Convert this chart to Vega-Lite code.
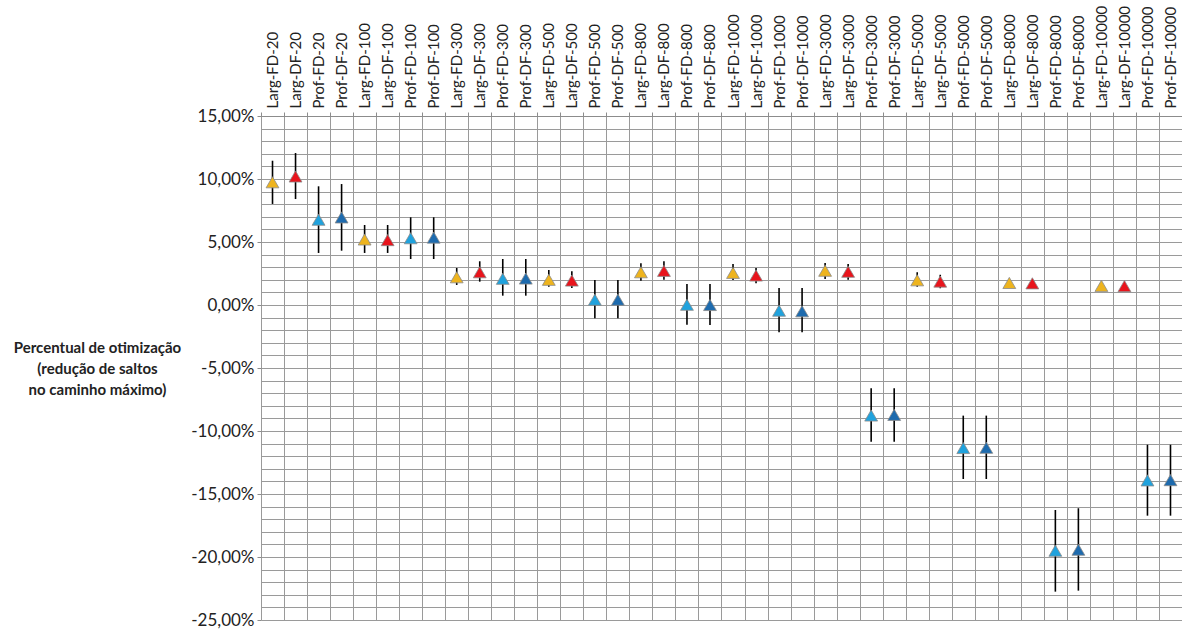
{
  "$schema": "https://vega.github.io/schema/vega-lite/v6.json",
  "autosize": {"type": "none"},
  "padding": {"left": 261, "top": 116, "right": 0, "bottom": 10},
  "width": 921,
  "height": 504,
  "background": "white",
  "config": {
    "view": {"stroke": null},
    "font": "Lato"
  },
  "data": {
    "values": [
      {"cat": "Larg-FD-20", "serie": "Larg-FD", "v": 9.74, "lo": 8.02, "hi": 11.45},
      {"cat": "Larg-DF-20", "serie": "Larg-DF", "v": 10.2, "lo": 8.41, "hi": 12.06},
      {"cat": "Prof-FD-20", "serie": "Prof-FD", "v": 6.77, "lo": 4.13, "hi": 9.42},
      {"cat": "Prof-DF-20", "serie": "Prof-DF", "v": 6.95, "lo": 4.31, "hi": 9.6},
      {"cat": "Larg-FD-100", "serie": "Larg-FD", "v": 5.2, "lo": 4.13, "hi": 6.35},
      {"cat": "Larg-DF-100", "serie": "Larg-DF", "v": 5.15, "lo": 4.13, "hi": 6.35},
      {"cat": "Prof-FD-100", "serie": "Prof-FD", "v": 5.3, "lo": 3.65, "hi": 6.96},
      {"cat": "Prof-DF-100", "serie": "Prof-DF", "v": 5.35, "lo": 3.65, "hi": 6.96},
      {"cat": "Larg-FD-300", "serie": "Larg-FD", "v": 2.2, "lo": 1.59, "hi": 2.94},
      {"cat": "Larg-DF-300", "serie": "Larg-DF", "v": 2.6, "lo": 1.85, "hi": 3.47},
      {"cat": "Prof-FD-300", "serie": "Prof-FD", "v": 2.08, "lo": 0.74, "hi": 3.65},
      {"cat": "Prof-DF-300", "serie": "Prof-DF", "v": 2.1, "lo": 0.74, "hi": 3.65},
      {"cat": "Larg-FD-500", "serie": "Larg-FD", "v": 2.0, "lo": 1.45, "hi": 2.78},
      {"cat": "Larg-DF-500", "serie": "Larg-DF", "v": 1.94, "lo": 1.35, "hi": 2.67},
      {"cat": "Prof-FD-500", "serie": "Prof-FD", "v": 0.42, "lo": -1.06, "hi": 1.98},
      {"cat": "Prof-DF-500", "serie": "Prof-DF", "v": 0.42, "lo": -1.06, "hi": 1.98},
      {"cat": "Larg-FD-800", "serie": "Larg-FD", "v": 2.6, "lo": 1.93, "hi": 3.31},
      {"cat": "Larg-DF-800", "serie": "Larg-DF", "v": 2.71, "lo": 2.0, "hi": 3.47},
      {"cat": "Prof-FD-800", "serie": "Prof-FD", "v": 0.02, "lo": -1.56, "hi": 1.67},
      {"cat": "Prof-DF-800", "serie": "Prof-DF", "v": 0.0, "lo": -1.59, "hi": 1.67},
      {"cat": "Larg-FD-1000", "serie": "Larg-FD", "v": 2.55, "lo": 1.98, "hi": 3.25},
      {"cat": "Larg-DF-1000", "serie": "Larg-DF", "v": 2.34, "lo": 1.72, "hi": 2.94},
      {"cat": "Prof-FD-1000", "serie": "Prof-FD", "v": -0.45, "lo": -2.17, "hi": 1.35},
      {"cat": "Prof-DF-1000", "serie": "Prof-DF", "v": -0.5, "lo": -2.17, "hi": 1.35},
      {"cat": "Larg-FD-3000", "serie": "Larg-FD", "v": 2.72, "lo": 2.06, "hi": 3.33},
      {"cat": "Larg-DF-3000", "serie": "Larg-DF", "v": 2.64, "lo": 2.0, "hi": 3.25},
      {"cat": "Prof-FD-3000", "serie": "Prof-FD", "v": -8.77, "lo": -10.85, "hi": -6.61},
      {"cat": "Prof-DF-3000", "serie": "Prof-DF", "v": -8.72, "lo": -10.85, "hi": -6.61},
      {"cat": "Larg-FD-5000", "serie": "Larg-FD", "v": 1.96, "lo": 1.45, "hi": 2.6},
      {"cat": "Larg-DF-5000", "serie": "Larg-DF", "v": 1.86, "lo": 1.33, "hi": 2.4},
      {"cat": "Prof-FD-5000", "serie": "Prof-FD", "v": -11.35, "lo": -13.81, "hi": -8.78},
      {"cat": "Prof-DF-5000", "serie": "Prof-DF", "v": -11.33, "lo": -13.81, "hi": -8.78},
      {"cat": "Larg-FD-8000", "serie": "Larg-FD", "v": 1.75, "lo": 1.75, "hi": 1.75},
      {"cat": "Larg-DF-8000", "serie": "Larg-DF", "v": 1.72, "lo": 1.72, "hi": 1.72},
      {"cat": "Prof-FD-8000", "serie": "Prof-FD", "v": -19.5, "lo": -22.75, "hi": -16.27},
      {"cat": "Prof-DF-8000", "serie": "Prof-DF", "v": -19.42, "lo": -22.67, "hi": -16.13},
      {"cat": "Larg-FD-10000", "serie": "Larg-FD", "v": 1.52, "lo": 1.52, "hi": 1.52},
      {"cat": "Larg-DF-10000", "serie": "Larg-DF", "v": 1.5, "lo": 1.5, "hi": 1.5},
      {"cat": "Prof-FD-10000", "serie": "Prof-FD", "v": -13.92, "lo": -16.72, "hi": -11.09},
      {"cat": "Prof-DF-10000", "serie": "Prof-DF", "v": -13.9, "lo": -16.72, "hi": -11.09}
    ]
  },
  "encoding": {
    "x": {
      "field": "cat",
      "type": "nominal",
      "sort": null,
      "scale": {"paddingInner": 0, "paddingOuter": 0},
      "axis": {
        "orient": "top",
        "title": null,
        "labelAngle": -90,
        "labelFontSize": 15,
        "labelColor": "#222222",
        "labelPadding": 4,
        "labelOverlap": false,
        "tickBand": "extent",
        "tickSize": 4,
        "tickColor": "#8c8c8c",
        "domainColor": "#8c8c8c",
        "grid": true,
        "gridColor": "#9a9a9a",
        "gridWidth": 1,
        "gridOpacity": 1
      }
    }
  },
  "layer": [
    {
      "mark": {"type": "rule", "color": "black", "strokeWidth": 1.6},
      "encoding": {
        "y": {
          "field": "lo",
          "type": "quantitative",
          "scale": {"domain": [-25, 15], "nice": false, "zero": false},
          "axis": {
            "orient": "left",
            "values": [-25, -24, -23, -22, -21, -20, -19, -18, -17, -16, -15, -14, -13, -12, -11, -10, -9, -8, -7, -6, -5, -4, -3, -2, -1, 0, 1, 2, 3, 4, 5, 6, 7, 8, 9, 10, 11, 12, 13, 14, 15],
            "tickCount": 100,
            "labelExpr": "datum.value % 5 === 0 ? datum.value + ',00%' : ''",
            "labelOverlap": false,
            "labelFontSize": 17,
            "labelColor": "#222222",
            "labelPadding": 3,
            "tickSize": 4,
            "tickColor": "#8c8c8c",
            "tickOpacity": {"condition": {"test": "datum.value % 5 === 0", "value": 1}, "value": 0},
            "domain": false,
            "grid": true,
            "gridColor": "#9a9a9a",
            "gridWidth": 1,
            "gridOpacity": 1,
            "title": ["Percentual de otimização", "(redução de saltos", "no caminho  máximo)"],
            "titleAngle": 0,
            "titleAlign": "center",
            "titleBaseline": "top",
            "titleX": -164,
            "titleY": 224,
            "titleFontSize": 15,
            "titleFontWeight": "bold",
            "titleColor": "#222222",
            "titleLineHeight": 21
          }
        },
        "y2": {"field": "hi"}
      }
    },
    {
      "mark": {"type": "point", "shape": "triangle-up", "filled": true, "size": 165, "opacity": 1, "stroke": "#8a8a8a", "strokeWidth": 0.8},
      "encoding": {
        "y": {"field": "v", "type": "quantitative"},
        "fill": {
          "field": "serie",
          "type": "nominal",
          "legend": null,
          "scale": {
            "domain": ["Larg-FD", "Larg-DF", "Prof-FD", "Prof-DF"],
            "range": ["#EEB41E", "#E8141C", "#20A2DD", "#1E6BAE"]
          }
        }
      }
    }
  ]
}
